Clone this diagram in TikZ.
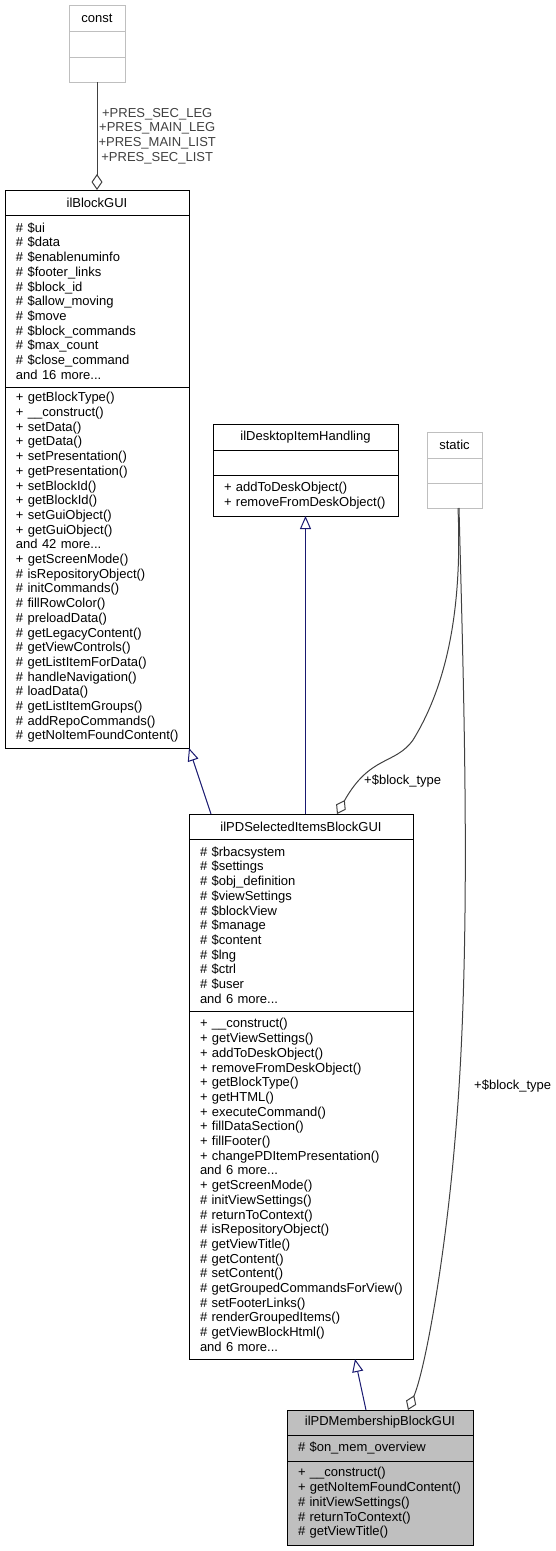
\documentclass[tikz,border=0pt]{standalone}
\usepackage{fontspec}
\setmainfont{Liberation Sans}
\usetikzlibrary{positioning,arrows.meta}

\definecolor{edgeblue}{HTML}{191970}
\definecolor{edgegray}{HTML}{404040}
\definecolor{boxgray}{HTML}{BFBFBF}

\tikzset{
  classhead/.style={draw=black, line width=1pt, fill=white, outer sep=0pt, inner sep=0pt, anchor=north west, font=\fontsize{13}{14.7}\selectfont},
  classpart/.style={classhead, align=left, execute at begin node={\leftskip=11pt}},
  ghost/.style={draw=boxgray},
  inherit/.style={edgeblue, line width=1pt, -{Triangle[open, length=13pt, width=11pt]}},
  member/.style={edgegray, line width=1pt, -{Diamond[open, length=16pt, width=11pt]}},
  edgelabel/.style={font=\fontsize{13}{14.7}\selectfont, inner sep=1pt, align=center}
}

\begin{document}
\begin{tikzpicture}[x=1pt,y=-1pt]
  \useasboundingbox (0,0) rectangle (556,1551);

  % const
  \node[classhead, ghost, minimum width=56pt, minimum height=26pt] (consthead) at (69,5) {const};
  \node[classpart, ghost, text width=56pt, minimum height=26pt, below=0pt of consthead.south west, anchor=north west] (consta) {};
  \node[classpart, ghost, text width=56pt, minimum height=25pt, below=0pt of consta.south west, anchor=north west] (constm) {};

  % ilBlockGUI
  \node[classhead, minimum width=184pt, minimum height=25pt] (blkhead) at (5,190) {ilBlockGUI};
  \node[classpart, text width=184pt, minimum height=172pt, below=0pt of blkhead.south west, anchor=north west] (blkattr)
    {\# \$ui\\\# \$data\\\# \$enablenuminfo\\\# \$footer\_links\\\# \$block\_id\\\# \$allow\_moving\\\# \$move\\\# \$block\_commands\\\# \$max\_count\\\# \$close\_command\\and 16 more...};
  \node[classpart, text width=184pt, minimum height=361pt, below=0pt of blkattr.south west, anchor=north west] (blkmeth)
    {+ getBlockType()\\+ \_\_construct()\\+ setData()\\+ getData()\\+ setPresentation()\\+ getPresentation()\\+ setBlockId()\\+ getBlockId()\\+ setGuiObject()\\+ getGuiObject()\\and 42 more...\\+ getScreenMode()\\\# isRepositoryObject()\\\# initCommands()\\\# fillRowColor()\\\# preloadData()\\\# getLegacyContent()\\\# getViewControls()\\\# getListItemForData()\\\# handleNavigation()\\\# loadData()\\\# getListItemGroups()\\\# addRepoCommands()\\\# getNoItemFoundContent()};

  % ilDesktopItemHandling
  \node[classhead, minimum width=185pt, minimum height=26pt] (deskhead) at (213,424) {ilDesktopItemHandling};
  \node[classpart, text width=185pt, minimum height=25pt, below=0pt of deskhead.south west, anchor=north west] (deskattr) {};
  \node[classpart, text width=185pt, minimum height=41pt, below=0pt of deskattr.south west, anchor=north west] (deskmeth)
    {+ addToDeskObject()\\+ removeFromDeskObject()};

  % static
  \node[classhead, ghost, minimum width=55pt, minimum height=26pt] (stathead) at (427,432) {static};
  \node[classpart, ghost, text width=55pt, minimum height=25pt, below=0pt of stathead.south west, anchor=north west] (stata) {};
  \node[classpart, ghost, text width=55pt, minimum height=25pt, below=0pt of stata.south west, anchor=north west] (statm) {};

  % ilPDSelectedItemsBlockGUI
  \node[classhead, minimum width=224pt, minimum height=25pt] (selhead) at (189,814) {ilPDSelectedItemsBlockGUI};
  \node[classpart, text width=224pt, minimum height=172pt, below=0pt of selhead.south west, anchor=north west] (selattr)
    {\# \$rbacsystem\\\# \$settings\\\# \$obj\_definition\\\# \$viewSettings\\\# \$blockView\\\# \$manage\\\# \$content\\\# \$lng\\\# \$ctrl\\\# \$user\\and 6 more...};
  \node[classpart, text width=224pt, minimum height=348pt, below=0pt of selattr.south west, anchor=north west] (selmeth)
    {+ \_\_construct()\\+ getViewSettings()\\+ addToDeskObject()\\+ removeFromDeskObject()\\+ getBlockType()\\+ getHTML()\\+ executeCommand()\\+ fillDataSection()\\+ fillFooter()\\+ changePDItemPresentation()\\and 6 more...\\+ getScreenMode()\\\# initViewSettings()\\\# returnToContext()\\\# isRepositoryObject()\\\# getViewTitle()\\\# getContent()\\\# setContent()\\\# getGroupedCommandsForView()\\\# setFooterLinks()\\\# renderGroupedItems()\\\# getViewBlockHtml()\\and 6 more...};

  % ilPDMembershipBlockGUI
  \node[classhead, fill=boxgray, minimum width=186pt, minimum height=25pt] (memhead) at (287,1410) {ilPDMembershipBlockGUI};
  \node[classpart, fill=boxgray, text width=186pt, minimum height=26pt, below=0pt of memhead.south west, anchor=north west] (memattr)
    {\# \$on\_mem\_overview};
  \node[classpart, fill=boxgray, text width=186pt, minimum height=84pt, below=0pt of memattr.south west, anchor=north west] (memmeth)
    {+ \_\_construct()\\+ getNoItemFoundContent()\\\# initViewSettings()\\\# returnToContext()\\\# getViewTitle()};

  % aggregation from const
  \draw[member] (constm.south) -- (blkhead.north)
    node[edgelabel, midway, anchor=west] (preslbl) {+PRES\_SEC\_LEG\\+PRES\_MAIN\_LEG\\+PRES\_MAIN\_LIST\\+PRES\_SEC\_LIST};

  % inheritance
  \draw[inherit] ([xshift=22pt]selhead.north west) -- (blkmeth.south east);
  \draw[inherit] (selhead.north -| deskmeth.south) -- (deskmeth.south);
  \draw[inherit] ([xshift=79pt]memhead.north west) -- ([xshift=166pt]selmeth.south west);

  % aggregation from static
  \draw[member] ([xshift=31pt]statm.south west) .. controls (462,600) and (450,680) .. (413,740)
    .. controls (395,765) and (370,755) .. ([xshift=148pt]selhead.north west);
  \node[edgelabel, anchor=west] (btlbl) at (363,781) {+\$block\_type};
  \draw[member] ([xshift=32pt]statm.south west) .. controls (464,700) and (472,950) .. (455,1140)
    .. controls (445,1260) and (425,1370) .. ([xshift=121pt]memhead.north west);
  \node[edgelabel, anchor=west] (btlblmem) at (473,1086) {+\$block\_type};

\end{tikzpicture}
\end{document}
